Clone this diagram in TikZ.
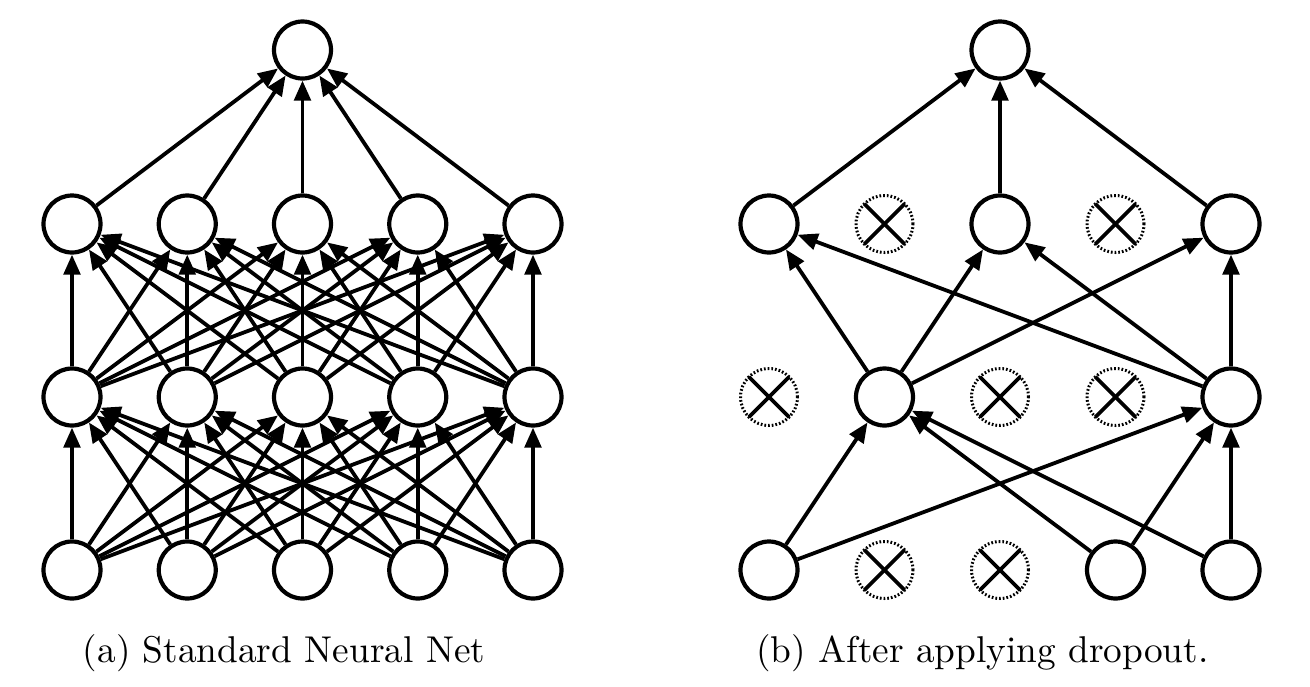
\documentclass[tikz,border=0pt]{standalone}
\usetikzlibrary{arrows.meta}
\begin{document}
\begin{tikzpicture}[x=1pt,y=-1pt,
  neuron/.style={circle,draw,line width=4.2pt,fill=white,minimum size=57pt,inner sep=0pt},
  dropped/.style={circle,draw,line width=3pt,dash pattern=on 1.7pt off 2pt,minimum size=57pt,inner sep=0pt,outer sep=0pt},
  xline/.style={line width=3.8pt},
  conn/.style={line width=3.8pt,-{Triangle[length=20pt,width=16.5pt]}},
  caption/.style={anchor=base,scale=3.73,inner sep=0pt}]
\useasboundingbox (0,0) rectangle (1310,686);
% ---------- (a) standard network ----------
\foreach \i in {1,...,5} {
  \node[neuron] (La\i) at ({72+115.25*(\i-1)},570) {};
  \node[neuron] (Lb\i) at ({72+115.25*(\i-1)},397) {};
  \node[neuron] (Lc\i) at ({72+115.25*(\i-1)},224) {};
}
\node[neuron] (Lo) at (302.5,50) {};
\foreach \i in {1,...,5} {
  \foreach \j in {1,...,5} {
    \draw[conn] (La\i) -- (Lb\j);
    \draw[conn] (Lb\i) -- (Lc\j);
  }
  \draw[conn] (Lc\i) -- (Lo);
}
% ---------- (b) after dropout ----------
\node[neuron] (Ra1) at (769,570) {};
\node[dropped] (Ra2) at (884.5,570) {};
\node[dropped] (Ra3) at (1000,570) {};
\node[neuron] (Ra4) at (1115.5,570) {};
\node[neuron] (Ra5) at (1231,570) {};
\node[dropped] (Rb1) at (769,397) {};
\node[neuron] (Rb2) at (884.5,397) {};
\node[dropped] (Rb3) at (1000,397) {};
\node[dropped] (Rb4) at (1115.5,397) {};
\node[neuron] (Rb5) at (1231,397) {};
\node[neuron] (Rc1) at (769,224) {};
\node[dropped] (Rc2) at (884.5,224) {};
\node[neuron] (Rc3) at (1000,224) {};
\node[dropped] (Rc4) at (1115.5,224) {};
\node[neuron] (Rc5) at (1231,224) {};
\node[neuron] (Ro) at (1000,50) {};
\foreach \n in {Ra2,Ra3,Rb1,Rb3,Rb4,Rc2,Rc4} {
  \draw[xline] (\n.north west) -- (\n.south east);
  \draw[xline] (\n.north east) -- (\n.south west);
}
\draw[conn] (Ra1) -- (Rb2);
\draw[conn] (Ra1) -- (Rb5);
\draw[conn] (Ra4) -- (Rb2);
\draw[conn] (Ra5) -- (Rb2);
\draw[conn] (Ra4) -- (Rb5);
\draw[conn] (Ra5) -- (Rb5);
\draw[conn] (Rb2) -- (Rc1);
\draw[conn] (Rb2) -- (Rc3);
\draw[conn] (Rb2) -- (Rc5);
\draw[conn] (Rb5) -- (Rc1);
\draw[conn] (Rb5) -- (Rc3);
\draw[conn] (Rb5) -- (Rc5);
\draw[conn] (Rc1) -- (Ro);
\draw[conn] (Rc3) -- (Ro);
\draw[conn] (Rc5) -- (Ro);
% ---------- captions ----------
\node[caption] (capa) at (284,662) {(a) Standard Neural Net};
\node[caption] (capb) at (982.5,662) {(b) After applying dropout.};
\end{tikzpicture}
\end{document}
